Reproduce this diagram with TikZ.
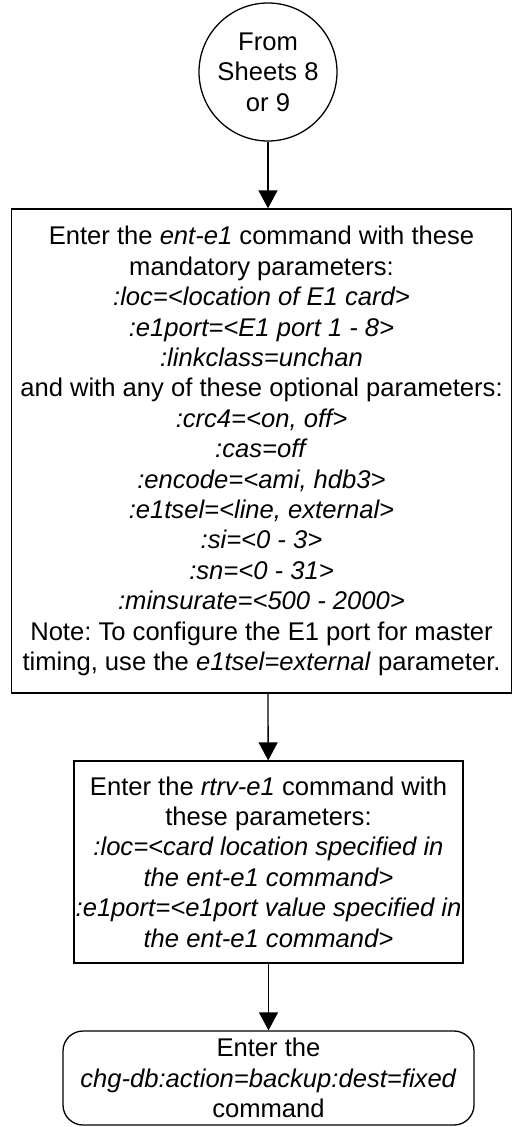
\documentclass[tikz,border=0pt]{standalone}
\usepackage{fontspec}
\setmainfont{Liberation Sans}
\usetikzlibrary{positioning,arrows.meta}
\tikzset{
  conn/.style ={circle, draw=black, line width=1.3pt, minimum size=138pt, inner sep=0pt, align=center},
  proc/.style ={rectangle, draw=black, line width=1.3pt, inner sep=0pt, align=center},
  term/.style ={rectangle, rounded corners=20pt, draw=black, line width=1.3pt, inner sep=0pt, align=center},
  e/.style    ={-{Triangle[length=18pt, width=19pt]}, line width=1.3pt, draw=black},
}
\newcommand{\txt}{\fontsize{25.6}{30.4}\selectfont}
\frenchspacing

\begin{document}
\begin{tikzpicture}[x=1pt, y=1pt, font=\txt]
\useasboundingbox (0,0) rectangle (513,-1127);
% connector from previous sheets
\node[conn] (from) at (268,-72) {From\\Sheets 8\\or 9};
% enter the E1 card
\node[proc, minimum width=500pt, minimum height=484pt] (ente) at (261.5,-451) {Enter the \textit{ent-e1} command with these\\
mandatory parameters:\\
\textit{:loc=<location of E1 card>}\\
\textit{:e1port=<E1 port 1 - 8>}\\
\textit{:linkclass=unchan}\\
and with any of these optional parameters:\\
\textit{:crc4=<on, off>}\\
\textit{:cas=off}\\
\textit{:encode=<ami, hdb3>}\\
\textit{:e1tsel=<line, external>}\\
\textit{:si=<0 - 3>}\\
\textit{:sn=<0 - 31>}\\
\textit{:minsurate=<500 - 2000>}\\
Note: To configure the E1 port for master\\
timing, use the \textit{e1tsel=external} parameter.};
% verify
\node[proc, minimum width=389pt, minimum height=202pt] (rtrv) at (268.5,-862) {Enter the \textit{rtrv-e1} command with\\
these parameters:\\
\textit{:loc=<card location specified in}\\
\textit{the ent-e1 command>}\\
\textit{:e1port=<e1port value specified in}\\
\textit{the ent-e1 command>}};
% backup
\node[term, minimum width=411pt, minimum height=94pt] (bkup) at (268.5,-1078) {Enter the\\
\textit{chg-db:action=backup:dest=fixed}\\
command};
\draw[e] (from) -- (from |- ente.north);
\draw[e] (from |- ente.south) -- (rtrv);
\draw[e] (rtrv) -- (bkup);
\end{tikzpicture}
\end{document}
